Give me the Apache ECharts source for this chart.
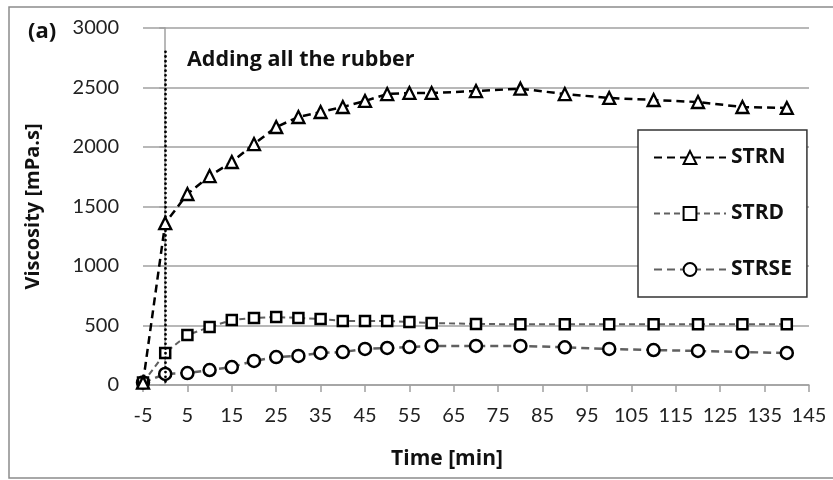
<!DOCTYPE html>
<html>
<head>
<meta charset="utf-8">
<script src="https://cdn.jsdelivr.net/npm/echarts@6/dist/echarts.min.js"></script>
<style>html,body{margin:0;padding:0;background:#fff}#c{width:833px;height:480px}</style>
</head>
<body>
<div id="c"></div>
<script>
var time = [-5, 0, 5, 10, 15, 20, 25, 30, 35, 40, 45, 50, 55, 60, 70, 80, 90, 100, 110, 120, 130, 140];
var strn = [20, 1360, 1605, 1756, 1874, 2025, 2168, 2252, 2294, 2336, 2387, 2445, 2454, 2454, 2470, 2490, 2445, 2412, 2395, 2378, 2336, 2328];
var strd = [20, 269, 420, 487, 546, 563, 571, 563, 554, 538, 538, 538, 530, 521, 513, 510, 510, 510, 510, 510, 510, 510];
var strse = [20, 93, 100, 126, 151, 202, 235, 244, 269, 277, 303, 311, 319, 328, 328, 328, 317, 303, 294, 286, 277, 269];
var xTicks = [-5, 5, 15, 25, 35, 45, 55, 65, 75, 85, 95, 105, 115, 125, 135, 145];
var seriesNames = ['STRN', 'STRD', 'STRSE'];
var markerX = 0, markerTop = 2800;

function pairs(v) { return time.map(function (t, i) { return [t, v[i]]; }); }

var F = 'Lato, "Open Sans", sans-serif';
var FB = '"Open Sans", Lato, sans-serif';
var chart = echarts.init(document.getElementById('c'), null, {renderer: 'canvas'});
chart.setOption({
  animation: false,
  backgroundColor: '#fff',
  grid: {left: 143, right: 24, top: 28, bottom: 95},
  xAxis: {
    type: 'value', min: -5, max: 145,
    name: 'Time [min]', nameLocation: 'middle', nameGap: 64,
    nameTextStyle: {fontFamily: FB, fontWeight: 'bold', fontSize: 21, color: '#111', padding: [0, 58, 0, 0]},
    axisLine: {show: true, onZero: false, lineStyle: {color: '#a0a0a0', width: 1.5}},
    axisTick: {show: true, customValues: xTicks, length: 7, lineStyle: {color: '#a0a0a0', width: 1.5}},
    axisLabel: {customValues: xTicks, margin: 21, fontFamily: F, fontSize: 20, color: '#222',
      formatter: function (v) { return String(v); }},
    splitLine: {show: false}
  },
  yAxis: {
    type: 'value', min: 0, max: 3000, interval: 500,
    name: 'Viscosity [mPa.s]', nameLocation: 'middle', nameGap: 100,
    nameTextStyle: {fontFamily: FB, fontWeight: 'bold', fontSize: 20, color: '#111'},
    axisLine: {show: true, lineStyle: {color: '#a0a0a0', width: 1.5}},
    axisTick: {show: true, length: 6, lineStyle: {color: '#a0a0a0', width: 1.5}},
    axisLabel: {margin: 24, fontFamily: F, fontSize: 20, color: '#222',
      formatter: function (v) { return String(v); }},
    splitLine: {show: true, lineStyle: {color: '#a0a0a0', width: 1.5}}
  },
  legend: {
    orient: 'vertical', left: 638, top: 130,
    data: seriesNames,
    itemWidth: 72, itemHeight: 16, itemGap: 35,
    padding: [17, 15, 17, 15],
    backgroundColor: '#fff', borderColor: '#333', borderWidth: 1.5,
    textStyle: {fontFamily: FB, fontWeight: 'bold', fontSize: 21, color: '#111'}
  },
  graphic: [
    {type: 'rect', shape: {x: 9, y: 7, width: 840, height: 471}, style: {fill: 'none', stroke: '#8c8c8c', lineWidth: 1.5}, silent: true, z: -10},
    {type: 'text', left: 28, top: 21, style: {text: '(a)', fontFamily: FB, fontWeight: 'bold', fontSize: 22, fill: '#111'}},
    {type: 'text', left: 187, top: 49, style: {text: 'Adding all the rubber', fontFamily: FB, fontWeight: 'bold', fontSize: 21.5, fill: '#111'}}
  ],
  series: [
    {
      name: 'STRN', type: 'line', data: pairs(strn),
      symbol: 'triangle', symbolSize: 12,
      lineStyle: {color: '#000', width: 2.5, type: [8, 5]},
      itemStyle: {color: '#fff', borderColor: '#000', borderWidth: 2.3},
      z: 5,
      markLine: {
        silent: true, symbol: ['none', 'none'],
        lineStyle: {color: '#000', width: 2.8, type: [0.01, 4.7], cap: 'round'},
        label: {show: false},
        data: [[{coord: [markerX, markerTop]}, {coord: [markerX, 0]}]]
      }
    },
    {
      name: 'STRD', type: 'line', data: pairs(strd),
      symbol: 'rect', symbolSize: 10,
      lineStyle: {color: '#606060', width: 2, type: [6, 4]},
      itemStyle: {color: '#fff', borderColor: '#000', borderWidth: 2.5},
      z: 4
    },
    {
      name: 'STRSE', type: 'line', data: pairs(strse),
      symbol: 'circle', symbolSize: 12,
      lineStyle: {color: '#606060', width: 2.5, type: [8, 5]},
      itemStyle: {color: '#fff', borderColor: '#000', borderWidth: 2.5},
      z: 3
    }
  ]
});
</script>
</body>
</html>
